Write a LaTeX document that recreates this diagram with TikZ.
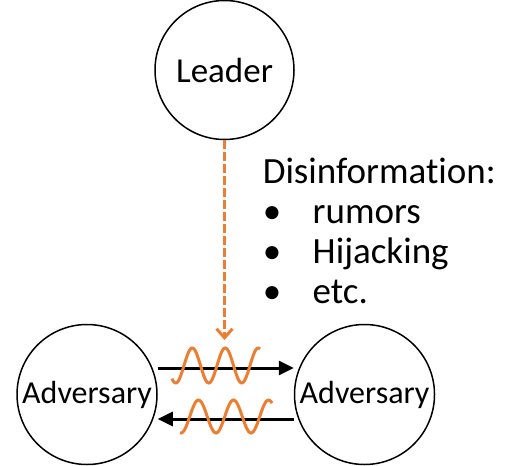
\documentclass[tikz,border=0pt]{standalone}
\usepackage{fontspec}
\setmainfont{Carlito}[Ligatures=NoCommon]
\usetikzlibrary{arrows.meta,positioning}
\definecolor{warn}{HTML}{ED7D31}

\begin{document}
\begin{tikzpicture}[x=1pt, y=-1pt, line width=1.5pt,
    agent/.style={draw, circle, minimum size=140pt, inner sep=0pt},
    msg/.style={line width=3pt, -{Triangle[length=15pt,width=14pt]}},
    noise/.style={warn, line width=3pt}]

  \useasboundingbox (0,0) rectangle (526,465);

  \node (leader) [agent, minimum size=139pt, font=\fontsize{35}{42}\selectfont] at (224.5,70) {Leader};
  \node (adv1) [agent, font=\fontsize{32}{38}\selectfont] at (87,394.5) {Adversary};
  \node (adv2) [agent, font=\fontsize{32}{38}\selectfont, right=136pt of adv1] {Adversary};

  \coordinate (hit) at (224.5,340);
  \draw [warn, line width=3pt, dash pattern=on 9pt off 3pt,
    -{Straight Barb[length=9pt,width=16pt]}] (leader.south) -- (hit);

  \draw [msg] ([yshift=26.5pt]adv1.east) -- ([yshift=26.5pt]adv2.west);
  \draw [msg] ([yshift=-24.5pt]adv2.west) -- ([yshift=-24.5pt]adv1.east);

  \draw [noise] plot [domain=172:260, samples=80] (\x, {365.5-17.5*sin((\x-184)/33*360)});
  \draw [noise] plot [domain=180:272, samples=80] (\x, {416.5-16.5*sin((\x-189.75)/35*360)});

  % base anchor sits on the last line
  \node (info) [anchor=base west, align=left, inner sep=0pt,
    font=\fontsize{37}{40}\selectfont] at (262,303)
    {Disinformation:\\ \makebox[50pt][l]{•}rumors\\ \makebox[50pt][l]{•}Hijacking\\ \makebox[50pt][l]{•}etc.};

\end{tikzpicture}
\end{document}
